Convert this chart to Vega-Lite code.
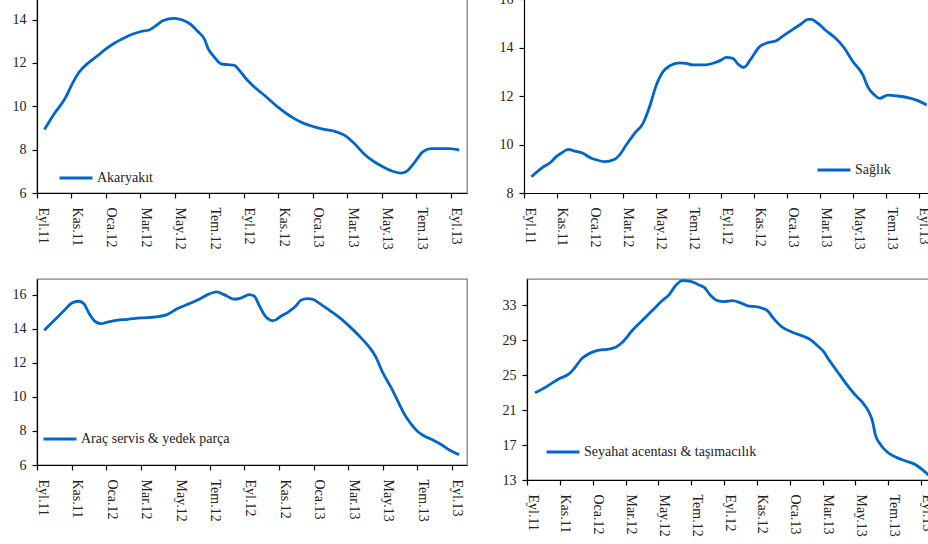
{
  "$schema": "https://vega.github.io/schema/vega-lite/v6.json",
  "padding": {"left": 0, "top": -8, "right": 0, "bottom": 0},
  "background": "white",
  "spacing": 24,
  "resolve": {"scale": {"color": "independent"}, "legend": {"color": "independent"}},
  "config": {
    "font": "Liberation Serif",
    "view": {"stroke": "#808080", "strokeWidth": 1.3},
    "axis": {"domainColor": "#000", "tickColor": "#000", "labelFont": "Liberation Serif", "labelColor": "#222", "grid": false, "title": null, "tickSize": 5, "domainWidth": 1.2, "tickWidth": 1.2},
    "axisX": {"values": [0, 2, 4, 6, 8, 10, 12, 14, 16, 18, 20, 22, 24], "labelExpr": "['Eyl.11','Kas.11','Oca.12','Mar.12','May.12','Tem.12','Eyl.12','Kas.12','Oca.13','Mar.13','May.13','Tem.13','Eyl.13'][round(datum.value/2)]", "labelAngle": 90, "labelAlign": "left", "labelBaseline": "middle", "labelOffset": 5, "labelPadding": 9, "labelFontSize": 14, "labelOverlap": false, "labelBound": false, "labelFlush": false, "minExtent": 50, "maxExtent": 50},
    "axisY": {"labelFontSize": 14, "labelPadding": 6, "labelOverlap": false, "labelBound": false, "labelFlush": false},
    "legend": {"orient": "none", "title": null, "symbolType": "stroke", "symbolSize": 1089, "symbolStrokeWidth": 3, "labelFont": "Liberation Serif", "labelFontSize": 14, "labelColor": "#222", "labelOffset": 3, "labelLimit": 400, "padding": 0, "symbolOpacity": 1},
    "line": {"interpolate": "monotone", "strokeWidth": 2.8, "clip": true, "color": "#0066cc"}
  },
  "vconcat": [
    {
      "spacing": 31,
      "resolve": {"scale": {"color": "independent"}, "legend": {"color": "independent"}},
      "hconcat": [
        {
          "width": 430, "height": 194,
          "data": {"values": [
            {"t": 0.43, "v": 8.93, "s": "Akaryakıt"}, {"t": 1.0, "v": 9.66, "s": "Akaryakıt"}, {"t": 1.68, "v": 10.43, "s": "Akaryakıt"}, {"t": 1.97, "v": 10.92, "s": "Akaryakıt"}, {"t": 2.45, "v": 11.58, "s": "Akaryakıt"}, {"t": 3.03, "v": 12.04, "s": "Akaryakıt"}, {"t": 3.52, "v": 12.34, "s": "Akaryakıt"}, {"t": 4.0, "v": 12.65, "s": "Akaryakıt"}, {"t": 4.48, "v": 12.91, "s": "Akaryakıt"}, {"t": 4.87, "v": 13.08, "s": "Akaryakıt"}, {"t": 5.45, "v": 13.3, "s": "Akaryakıt"}, {"t": 6.03, "v": 13.45, "s": "Akaryakıt"}, {"t": 6.51, "v": 13.52, "s": "Akaryakıt"}, {"t": 6.9, "v": 13.72, "s": "Akaryakıt"}, {"t": 7.29, "v": 13.95, "s": "Akaryakıt"}, {"t": 7.96, "v": 14.06, "s": "Akaryakıt"}, {"t": 8.44, "v": 13.98, "s": "Akaryakıt"}, {"t": 8.93, "v": 13.77, "s": "Akaryakıt"}, {"t": 9.31, "v": 13.46, "s": "Akaryakıt"}, {"t": 9.7, "v": 13.11, "s": "Akaryakıt"}, {"t": 9.93, "v": 12.65, "s": "Akaryakıt"}, {"t": 10.28, "v": 12.27, "s": "Akaryakıt"}, {"t": 10.67, "v": 11.96, "s": "Akaryakıt"}, {"t": 11.05, "v": 11.92, "s": "Akaryakıt"}, {"t": 11.44, "v": 11.89, "s": "Akaryakıt"}, {"t": 11.73, "v": 11.66, "s": "Akaryakıt"}, {"t": 12.12, "v": 11.27, "s": "Akaryakıt"}, {"t": 12.6, "v": 10.89, "s": "Akaryakıt"}, {"t": 13.18, "v": 10.51, "s": "Akaryakıt"}, {"t": 13.95, "v": 9.97, "s": "Akaryakıt"}, {"t": 14.92, "v": 9.43, "s": "Akaryakıt"}, {"t": 15.5, "v": 9.2, "s": "Akaryakıt"}, {"t": 16.08, "v": 9.05, "s": "Akaryakıt"}, {"t": 16.66, "v": 8.93, "s": "Akaryakıt"}, {"t": 17.24, "v": 8.85, "s": "Akaryakıt"}, {"t": 17.82, "v": 8.67, "s": "Akaryakıt"}, {"t": 18.4, "v": 8.28, "s": "Akaryakıt"}, {"t": 18.98, "v": 7.79, "s": "Akaryakıt"}, {"t": 19.55, "v": 7.44, "s": "Akaryakıt"}, {"t": 20.13, "v": 7.18, "s": "Akaryakıt"}, {"t": 20.71, "v": 6.98, "s": "Akaryakıt"}, {"t": 21.1, "v": 6.92, "s": "Akaryakıt"}, {"t": 21.39, "v": 6.98, "s": "Akaryakıt"}, {"t": 21.87, "v": 7.39, "s": "Akaryakıt"}, {"t": 22.36, "v": 7.9, "s": "Akaryakıt"}, {"t": 22.84, "v": 8.05, "s": "Akaryakıt"}, {"t": 23.42, "v": 8.05, "s": "Akaryakıt"}, {"t": 23.9, "v": 8.05, "s": "Akaryakıt"}, {"t": 24.48, "v": 7.98, "s": "Akaryakıt"}
          ]},
          "mark": {"type": "line"},
          "encoding": {
            "x": {"field": "t", "type": "quantitative", "scale": {"domain": [0, 24.93], "nice": false, "zero": false}},
            "y": {"field": "v", "type": "quantitative", "scale": {"domain": [6, 14.95], "nice": false, "zero": false}, "axis": {"values": [6, 8, 10, 12, 14], "minExtent": 36, "maxExtent": 36}},
            "color": {"field": "s", "type": "nominal", "scale": {"range": ["#0066cc"]}, "legend": {"legendX": 21, "legendY": 161}}
          }
        },
        {
          "width": 407, "height": 194,
          "view": {"stroke": null},
          "data": {"values": [
            {"t": 0.45, "v": 8.67, "s": "Sağlık"}, {"t": 1.05, "v": 9.02, "s": "Sağlık"}, {"t": 1.66, "v": 9.29, "s": "Sağlık"}, {"t": 1.96, "v": 9.5, "s": "Sağlık"}, {"t": 2.27, "v": 9.64, "s": "Sağlık"}, {"t": 2.67, "v": 9.8, "s": "Sağlık"}, {"t": 3.08, "v": 9.73, "s": "Sağlık"}, {"t": 3.58, "v": 9.64, "s": "Sağlık"}, {"t": 4.09, "v": 9.43, "s": "Sağlık"}, {"t": 4.49, "v": 9.35, "s": "Sağlık"}, {"t": 4.9, "v": 9.29, "s": "Sağlık"}, {"t": 5.51, "v": 9.39, "s": "Sağlık"}, {"t": 5.81, "v": 9.57, "s": "Sağlık"}, {"t": 6.21, "v": 9.98, "s": "Sağlık"}, {"t": 6.72, "v": 10.46, "s": "Sağlık"}, {"t": 7.23, "v": 10.87, "s": "Sağlık"}, {"t": 7.63, "v": 11.56, "s": "Sağlık"}, {"t": 8.04, "v": 12.45, "s": "Sağlık"}, {"t": 8.44, "v": 13.0, "s": "Sağlık"}, {"t": 8.85, "v": 13.24, "s": "Sağlık"}, {"t": 9.45, "v": 13.37, "s": "Sağlık"}, {"t": 9.86, "v": 13.35, "s": "Sağlık"}, {"t": 10.26, "v": 13.28, "s": "Sağlık"}, {"t": 10.97, "v": 13.28, "s": "Sağlık"}, {"t": 11.58, "v": 13.37, "s": "Sağlık"}, {"t": 11.98, "v": 13.48, "s": "Sağlık"}, {"t": 12.29, "v": 13.59, "s": "Sağlık"}, {"t": 12.69, "v": 13.55, "s": "Sağlık"}, {"t": 13.0, "v": 13.32, "s": "Sağlık"}, {"t": 13.36, "v": 13.18, "s": "Sağlık"}, {"t": 13.81, "v": 13.55, "s": "Sağlık"}, {"t": 14.31, "v": 14.03, "s": "Sağlık"}, {"t": 14.82, "v": 14.2, "s": "Sağlık"}, {"t": 15.32, "v": 14.28, "s": "Sağlık"}, {"t": 15.83, "v": 14.52, "s": "Sağlık"}, {"t": 16.34, "v": 14.75, "s": "Sağlık"}, {"t": 16.84, "v": 14.97, "s": "Sağlık"}, {"t": 17.25, "v": 15.16, "s": "Sağlık"}, {"t": 17.45, "v": 15.16, "s": "Sağlık"}, {"t": 17.85, "v": 15.0, "s": "Sağlık"}, {"t": 18.36, "v": 14.69, "s": "Sağlık"}, {"t": 18.87, "v": 14.42, "s": "Sağlık"}, {"t": 19.47, "v": 13.97, "s": "Sağlık"}, {"t": 19.98, "v": 13.42, "s": "Sağlık"}, {"t": 20.59, "v": 12.87, "s": "Sağlık"}, {"t": 20.89, "v": 12.38, "s": "Sağlık"}, {"t": 21.3, "v": 12.04, "s": "Sağlık"}, {"t": 21.6, "v": 11.9, "s": "Sağlık"}, {"t": 22.11, "v": 12.04, "s": "Sağlık"}, {"t": 22.71, "v": 12.0, "s": "Sağlık"}, {"t": 23.32, "v": 11.93, "s": "Sağlık"}, {"t": 23.93, "v": 11.81, "s": "Sağlık"}, {"t": 24.47, "v": 11.63, "s": "Sağlık"}
          ]},
          "mark": {"type": "line"},
          "encoding": {
            "x": {"field": "t", "type": "quantitative", "scale": {"domain": [0, 24.73], "nice": false, "zero": false}},
            "y": {"field": "v", "type": "quantitative", "scale": {"domain": [8, 16], "nice": false, "zero": false}, "axis": {"values": [8, 10, 12, 14, 16], "minExtent": 23, "maxExtent": 23}},
            "color": {"field": "s", "type": "nominal", "scale": {"range": ["#0066cc"]}, "legend": {"legendX": 292, "legendY": 153}}
          }
        }
      ]
    },
    {
      "spacing": 33,
      "resolve": {"scale": {"color": "independent"}, "legend": {"color": "independent"}},
      "hconcat": [
        {
          "width": 430, "height": 186,
          "data": {"values": [
            {"t": 0.42, "v": 13.92, "s": "Araç servis & yedek parça"}, {"t": 1.0, "v": 14.51, "s": "Araç servis & yedek parça"}, {"t": 1.58, "v": 15.1, "s": "Araç servis & yedek parça"}, {"t": 2.06, "v": 15.55, "s": "Araç servis & yedek parça"}, {"t": 2.45, "v": 15.63, "s": "Araç servis & yedek parça"}, {"t": 2.74, "v": 15.45, "s": "Araç servis & yedek parça"}, {"t": 3.02, "v": 14.9, "s": "Araç servis & yedek parça"}, {"t": 3.41, "v": 14.41, "s": "Araç servis & yedek parça"}, {"t": 3.7, "v": 14.31, "s": "Araç servis & yedek parça"}, {"t": 4.08, "v": 14.41, "s": "Araç servis & yedek parça"}, {"t": 4.57, "v": 14.51, "s": "Araç servis & yedek parça"}, {"t": 5.24, "v": 14.57, "s": "Araç servis & yedek parça"}, {"t": 6.01, "v": 14.65, "s": "Araç servis & yedek parça"}, {"t": 6.88, "v": 14.71, "s": "Araç servis & yedek parça"}, {"t": 7.55, "v": 14.86, "s": "Araç servis & yedek parça"}, {"t": 8.13, "v": 15.2, "s": "Araç servis & yedek parça"}, {"t": 8.81, "v": 15.49, "s": "Araç servis & yedek parça"}, {"t": 9.38, "v": 15.75, "s": "Araç servis & yedek parça"}, {"t": 9.87, "v": 16.02, "s": "Araç servis & yedek parça"}, {"t": 10.4, "v": 16.18, "s": "Araç servis & yedek parça"}, {"t": 10.83, "v": 16.02, "s": "Araç servis & yedek parça"}, {"t": 11.41, "v": 15.75, "s": "Araç servis & yedek parça"}, {"t": 11.79, "v": 15.82, "s": "Araç servis & yedek parça"}, {"t": 12.27, "v": 16.02, "s": "Araç servis & yedek parça"}, {"t": 12.56, "v": 15.94, "s": "Araç servis & yedek parça"}, {"t": 12.85, "v": 15.39, "s": "Araç servis & yedek parça"}, {"t": 13.24, "v": 14.71, "s": "Araç servis & yedek parça"}, {"t": 13.68, "v": 14.49, "s": "Araç servis & yedek parça"}, {"t": 14.1, "v": 14.75, "s": "Araç servis & yedek parça"}, {"t": 14.59, "v": 15.04, "s": "Araç servis & yedek parça"}, {"t": 14.97, "v": 15.35, "s": "Araç servis & yedek parça"}, {"t": 15.26, "v": 15.69, "s": "Araç servis & yedek parça"}, {"t": 15.65, "v": 15.78, "s": "Araç servis & yedek parça"}, {"t": 15.93, "v": 15.75, "s": "Araç servis & yedek parça"}, {"t": 16.42, "v": 15.45, "s": "Araç servis & yedek parça"}, {"t": 17.0, "v": 15.04, "s": "Araç servis & yedek parça"}, {"t": 17.57, "v": 14.61, "s": "Araç servis & yedek parça"}, {"t": 18.15, "v": 14.08, "s": "Araç servis & yedek parça"}, {"t": 18.73, "v": 13.49, "s": "Araç servis & yedek parça"}, {"t": 19.21, "v": 12.94, "s": "Araç servis & yedek parça"}, {"t": 19.6, "v": 12.35, "s": "Araç servis & yedek parça"}, {"t": 19.98, "v": 11.47, "s": "Araç servis & yedek parça"}, {"t": 20.46, "v": 10.59, "s": "Araç servis & yedek parça"}, {"t": 20.85, "v": 9.8, "s": "Araç servis & yedek parça"}, {"t": 21.23, "v": 9.02, "s": "Araç servis & yedek parça"}, {"t": 21.62, "v": 8.43, "s": "Araç servis & yedek parça"}, {"t": 22.0, "v": 7.98, "s": "Araç servis & yedek parça"}, {"t": 22.39, "v": 7.71, "s": "Araç servis & yedek parça"}, {"t": 22.87, "v": 7.49, "s": "Araç servis & yedek parça"}, {"t": 23.35, "v": 7.22, "s": "Araç servis & yedek parça"}, {"t": 23.83, "v": 6.9, "s": "Araç servis & yedek parça"}, {"t": 24.41, "v": 6.61, "s": "Araç servis & yedek parça"}
          ]},
          "mark": {"type": "line"},
          "encoding": {
            "x": {"field": "t", "type": "quantitative", "scale": {"domain": [0, 24.87], "nice": false, "zero": false}},
            "y": {"field": "v", "type": "quantitative", "scale": {"domain": [6, 16.94], "nice": false, "zero": false}, "axis": {"values": [6, 8, 10, 12, 14, 16], "minExtent": 36, "maxExtent": 36}},
            "color": {"field": "s", "type": "nominal", "scale": {"range": ["#0066cc"]}, "legend": {"legendX": 5, "legendY": 142}}
          }
        },
        {
          "width": 406, "height": 201,
          "data": {"values": [
            {"t": 0.49, "v": 22.98, "s": "Seyahat acentası & taşımacılık"}, {"t": 1.14, "v": 23.63, "s": "Seyahat acentası & taşımacılık"}, {"t": 1.95, "v": 24.58, "s": "Seyahat acentası & taşımacılık"}, {"t": 2.56, "v": 25.15, "s": "Seyahat acentası & taşımacılık"}, {"t": 2.86, "v": 25.72, "s": "Seyahat acentası & taşımacılık"}, {"t": 3.27, "v": 26.75, "s": "Seyahat acentası & taşımacılık"}, {"t": 3.98, "v": 27.63, "s": "Seyahat acentası & taşımacılık"}, {"t": 4.49, "v": 27.9, "s": "Seyahat acentası & taşımacılık"}, {"t": 4.79, "v": 27.93, "s": "Seyahat acentası & taşımacılık"}, {"t": 5.4, "v": 28.2, "s": "Seyahat acentası & taşımacılık"}, {"t": 5.81, "v": 28.77, "s": "Seyahat acentası & taşımacılık"}, {"t": 6.41, "v": 30.1, "s": "Seyahat acentası & taşımacılık"}, {"t": 7.02, "v": 31.25, "s": "Seyahat acentası & taşımacılık"}, {"t": 7.63, "v": 32.39, "s": "Seyahat acentası & taşımacılık"}, {"t": 8.24, "v": 33.53, "s": "Seyahat acentası & taşımacılık"}, {"t": 8.65, "v": 34.18, "s": "Seyahat acentası & taşımacılık"}, {"t": 9.05, "v": 35.25, "s": "Seyahat acentası & taşımacılık"}, {"t": 9.46, "v": 35.82, "s": "Seyahat acentası & taşımacılık"}, {"t": 9.97, "v": 35.74, "s": "Seyahat acentası & taşımacılık"}, {"t": 10.47, "v": 35.32, "s": "Seyahat acentası & taşımacılık"}, {"t": 10.78, "v": 35.06, "s": "Seyahat acentası & taşımacılık"}, {"t": 11.19, "v": 34.1, "s": "Seyahat acentası & taşımacılık"}, {"t": 11.59, "v": 33.53, "s": "Seyahat acentası & taşımacılık"}, {"t": 12.0, "v": 33.42, "s": "Seyahat acentası & taşımacılık"}, {"t": 12.5, "v": 33.53, "s": "Seyahat acentası & taşımacılık"}, {"t": 13.01, "v": 33.27, "s": "Seyahat acentası & taşımacılık"}, {"t": 13.52, "v": 32.89, "s": "Seyahat acentası & taşımacılık"}, {"t": 13.93, "v": 32.85, "s": "Seyahat acentası & taşımacılık"}, {"t": 14.33, "v": 32.66, "s": "Seyahat acentası & taşımacılık"}, {"t": 14.64, "v": 32.39, "s": "Seyahat acentası & taşımacılık"}, {"t": 15.04, "v": 31.44, "s": "Seyahat acentası & taşımacılık"}, {"t": 15.55, "v": 30.49, "s": "Seyahat acentası & taşımacılık"}, {"t": 16.16, "v": 29.91, "s": "Seyahat acentası & taşımacılık"}, {"t": 16.87, "v": 29.42, "s": "Seyahat acentası & taşımacılık"}, {"t": 17.28, "v": 29.04, "s": "Seyahat acentası & taşımacılık"}, {"t": 17.68, "v": 28.39, "s": "Seyahat acentası & taşımacılık"}, {"t": 18.09, "v": 27.63, "s": "Seyahat acentası & taşımacılık"}, {"t": 18.39, "v": 26.75, "s": "Seyahat acentası & taşımacılık"}, {"t": 18.9, "v": 25.42, "s": "Seyahat acentası & taşımacılık"}, {"t": 19.41, "v": 24.09, "s": "Seyahat acentası & taşımacılık"}, {"t": 20.02, "v": 22.68, "s": "Seyahat acentası & taşımacılık"}, {"t": 20.42, "v": 21.91, "s": "Seyahat acentası & taşımacılık"}, {"t": 20.83, "v": 20.77, "s": "Seyahat acentası & taşımacılık"}, {"t": 21.03, "v": 19.82, "s": "Seyahat acentası & taşımacılık"}, {"t": 21.23, "v": 18.1, "s": "Seyahat acentası & taşımacılık"}, {"t": 21.54, "v": 17.04, "s": "Seyahat acentası & taşımacılık"}, {"t": 21.94, "v": 16.2, "s": "Seyahat acentası & taşımacılık"}, {"t": 22.45, "v": 15.63, "s": "Seyahat acentası & taşımacılık"}, {"t": 23.06, "v": 15.17, "s": "Seyahat acentası & taşımacılık"}, {"t": 23.67, "v": 14.75, "s": "Seyahat acentası & taşımacılık"}, {"t": 24.08, "v": 14.18, "s": "Seyahat acentası & taşımacılık"}, {"t": 24.52, "v": 13.46, "s": "Seyahat acentası & taşımacılık"}
          ]},
          "mark": {"type": "line"},
          "encoding": {
            "x": {"field": "t", "type": "quantitative", "scale": {"domain": [0, 24.73], "nice": false, "zero": false}},
            "y": {"field": "v", "type": "quantitative", "scale": {"domain": [13, 36], "nice": false, "zero": false}, "axis": {"values": [13, 17, 21, 25, 29, 33], "minExtent": 23, "maxExtent": 23}},
            "color": {"field": "s", "type": "nominal", "scale": {"range": ["#0066cc"]}, "legend": {"legendX": 18, "legendY": 155}}
          }
        }
      ]
    }
  ]
}
